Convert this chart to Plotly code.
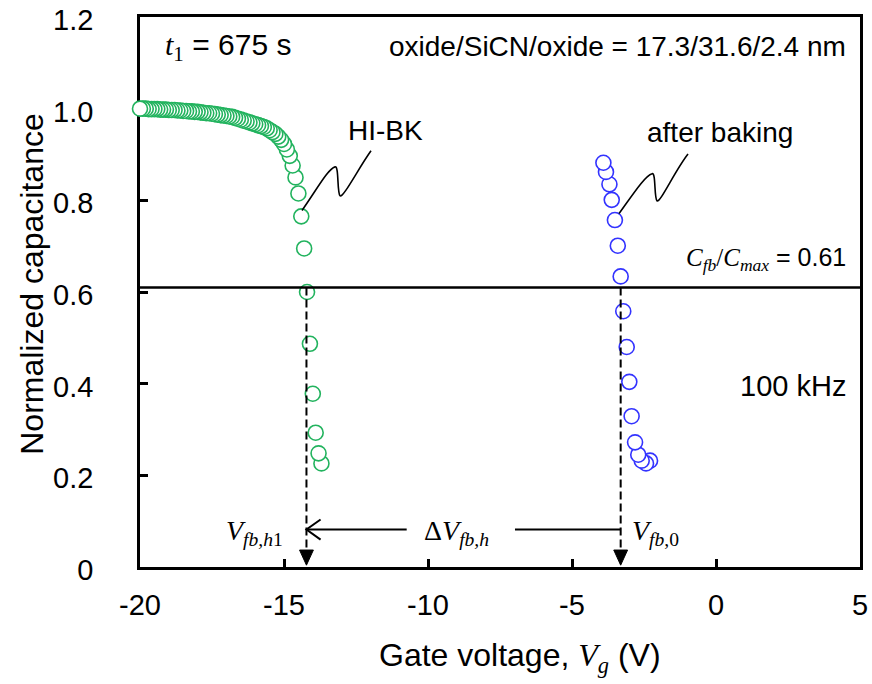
import plotly.graph_objects as go

# ---------------- data ----------------
green_v = [-20.0, -19.9, -19.8, -19.7, -19.6, -19.5, -19.4, -19.3, -19.2, -19.1,
           -19.0, -18.9, -18.8, -18.7, -18.6, -18.5, -18.4, -18.3, -18.2, -18.1,
           -18.0, -17.9, -17.8, -17.7, -17.6, -17.5, -17.4, -17.3, -17.2, -17.1,
           -17.0, -16.9, -16.8, -16.7, -16.6, -16.5, -16.4, -16.3, -16.2, -16.1,
           -16.0, -15.9, -15.8, -15.7, -15.6, -15.5, -15.4, -15.3, -15.2, -15.1,
           -15.0, -14.9, -14.8, -14.7, -14.6, -14.5, -14.4, -14.3, -14.2, -14.1,
           -14.0, -13.9, -13.8, -13.7]
green_c = [1.000, 1.000, 1.000, 0.999, 0.999, 0.999, 0.999, 0.998, 0.998, 0.998,
           0.997, 0.997, 0.997, 0.996, 0.996, 0.995, 0.995, 0.994, 0.994, 0.993,
           0.993, 0.992, 0.991, 0.990, 0.990, 0.989, 0.988, 0.987, 0.986, 0.985,
           0.984, 0.983, 0.982, 0.980, 0.978, 0.976, 0.974, 0.972, 0.970, 0.968,
           0.966, 0.964, 0.962, 0.960, 0.957, 0.953, 0.949, 0.945, 0.939, 0.932,
           0.923, 0.911, 0.897, 0.876, 0.850, 0.815, 0.765, 0.695, 0.600, 0.487,
           0.378, 0.293, 0.248, 0.226]

blue_v = [-3.91, -3.82, -3.70, -3.62, -3.51, -3.41, -3.31, -3.22, -3.10, -3.01,
          -2.93, -2.81, -2.70, -2.58, -2.43, -2.29]
blue_c = [0.882, 0.862, 0.835, 0.801, 0.757, 0.701, 0.634, 0.558, 0.480, 0.404,
          0.329, 0.272, 0.245, 0.232, 0.226, 0.232]

x_ticks = [-20, -15, -10, -5, 0, 5]
x_tick_text = ["-20", "-15", "-10", "-5", "0", "5"]
y_ticks = [0, 0.2, 0.4, 0.6, 0.8, 1.0, 1.2]
y_tick_text = ["0", "0.2", "0.4", "0.6", "0.8", "1.0", "1.2"]

c_ratio = 0.61          # Cfb/Cmax level
vfb_h1 = -14.22         # flat-band voltage after HI-BK
vfb_0 = -3.31           # flat-band voltage after baking

GREEN = "#22B35E"
BLUE = "#3333FF"
SANS = "Liberation Sans"
SERIF = "Liberation Serif"

fig = go.Figure()
fig.add_trace(go.Scatter(
    x=green_v[::-1], y=green_c[::-1], mode="markers", cliponaxis=False,
    marker=dict(symbol="circle", size=15, color="white",
                line=dict(color=GREEN, width=1.6)),
    showlegend=False, hoverinfo="skip"))
fig.add_trace(go.Scatter(
    x=blue_v[::-1], y=blue_c[::-1], mode="markers", cliponaxis=False,
    marker=dict(symbol="circle", size=15, color="white",
                line=dict(color=BLUE, width=1.6)),
    showlegend=False, hoverinfo="skip"))

axis_common = dict(showgrid=False, zeroline=False, showline=True, linecolor="black",
                   linewidth=2.5, mirror=True, ticks="inside", ticklen=8, tickwidth=2.5,
                   tickcolor="black", layer="below traces", ticklabeloverflow="allow",
                   automargin=False,
                   tickfont=dict(family=SANS, size=29, color="black"))

fig.update_layout(
    width=872, height=684,
    margin=dict(l=140, r=12, t=17, b=117),
    paper_bgcolor="white", plot_bgcolor="white",
    xaxis=dict(range=[-20, 5], tickvals=x_ticks, ticktext=x_tick_text,
               ticklabelstandoff=10, **axis_common),
    yaxis=dict(range=[0, 1.2], tickvals=y_ticks, ticktext=y_tick_text,
               ticklabelstandoff=38, ticklabelshift=3, **axis_common),
)

shapes = []
# Cfb/Cmax horizontal line
shapes.append(dict(type="line", xref="x", yref="y", x0=-20, x1=5, y0=c_ratio, y1=c_ratio,
                   line=dict(color="black", width=2.5)))
# dashed verticals + down triangles
for v in (vfb_h1, vfb_0):
    shapes.append(dict(type="line", xref="x", yref="y", x0=v, x1=v, y0=c_ratio, y1=0.036,
                       line=dict(color="black", width=2, dash="8px,4px")))
    shapes.append(dict(type="path", xref="x", yref="y",
                       path=f"M {v-0.24},0.037 L {v+0.24},0.037 L {v},0.004 Z",
                       fillcolor="black", line=dict(color="black", width=1)))
# delta arrow
arrow_y = 0.0817
shapes.append(dict(type="line", xref="x", yref="y", x0=vfb_h1, x1=-10.74, y0=arrow_y, y1=arrow_y,
                   line=dict(color="black", width=2)))
shapes.append(dict(type="line", xref="x", yref="y", x0=-6.98, x1=vfb_0, y0=arrow_y, y1=arrow_y,
                   line=dict(color="black", width=2)))
shapes.append(dict(type="path", xref="x", yref="y",
                   path=f"M {vfb_h1+0.49},{arrow_y+0.022} L {vfb_h1},{arrow_y} L {vfb_h1+0.49},{arrow_y-0.022}",
                   line=dict(color="black", width=2)))
# callout squiggles
shapes.append(dict(type="path", xref="x", yref="y",
                   path=("M -14.375,0.778 C -13.889,0.821 -13.472,0.869 -13.229,0.873 "
                         "C -13.090,0.877 -13.160,0.817 -13.056,0.810 "
                         "C -12.951,0.804 -12.431,0.868 -11.979,0.908"),
                   line=dict(color="black", width=1.6)))
shapes.append(dict(type="path", xref="x", yref="y",
                   path=("M -3.368,0.771 C -2.917,0.810 -2.465,0.854 -2.222,0.858 "
                         "C -2.083,0.862 -2.153,0.806 -2.049,0.799 "
                         "C -1.944,0.793 -1.424,0.865 -0.972,0.901"),
                   line=dict(color="black", width=1.6)))
fig.update_layout(shapes=shapes)

def serif(s):
    return f"<span style='font-family:{SERIF}'>{s}</span>"

ann = []
ann.append(dict(x=-19.2, y=1.135, xanchor="left", yanchor="middle",
                text=serif("<i>t</i><sub>1</sub>") + " = 675 s",
                font=dict(family=SANS, size=30, color="black")))
ann.append(dict(x=4.58, y=1.135, xanchor="right", yanchor="middle",
                text="oxide/SiCN/oxide = 17.3/31.6/2.4 nm",
                font=dict(family=SANS, size=28, color="black")))
ann.append(dict(x=-11.49, y=0.953, xanchor="center", yanchor="middle", text="HI-BK",
                font=dict(family=SANS, size=28, color="black")))
ann.append(dict(x=0.14, y=0.947, xanchor="center", yanchor="middle", text="after baking",
                font=dict(family=SANS, size=28, color="black")))
ann.append(dict(x=4.58, y=0.672, xanchor="right", yanchor="middle",
                text=serif("<i>C</i><sub><i>fb</i></sub>/<i>C</i><sub><i>max</i></sub>") + " = 0.61",
                font=dict(family=SANS, size=25, color="black")))
ann.append(dict(x=4.58, y=0.394, xanchor="right", yanchor="middle", text="100 kHz",
                font=dict(family=SANS, size=29, color="black")))
ann.append(dict(x=-14.95, y=0.075, xanchor="right", yanchor="middle",
                text="<i>V</i><sub><i>fb,h</i>1</sub>",
                font=dict(family=SERIF, size=28, color="black")))
ann.append(dict(x=-9.0, y=0.075, xanchor="center", yanchor="middle",
                text="Δ<i>V</i><sub><i>fb,h</i></sub>",
                font=dict(family=SERIF, size=28, color="black")))
ann.append(dict(x=-2.99, y=0.075, xanchor="left", yanchor="middle",
                text="<i>V</i><sub><i>fb</i>,0</sub>",
                font=dict(family=SERIF, size=28, color="black")))
for a in ann:
    a.update(xref="x", yref="y", showarrow=False)

# axis titles
ann.append(dict(xref="paper", yref="paper", x=-0.150, y=0.515, xanchor="center", yanchor="middle",
                textangle=-90, showarrow=False, text="Normalized capacitance",
                font=dict(family=SANS, size=32, color="black")))
ann.append(dict(xref="paper", yref="paper", x=0.528, y=-0.164, xanchor="center", yanchor="middle",
                showarrow=False, text="Gate voltage, " + serif("<i>V<sub>g</sub></i>") + " (V)",
                font=dict(family=SANS, size=32, color="black")))
fig.update_layout(annotations=ann)

fig.write_html("out.html", config={"displayModeBar": False},
               post_script="document.body.style.margin='0';")
